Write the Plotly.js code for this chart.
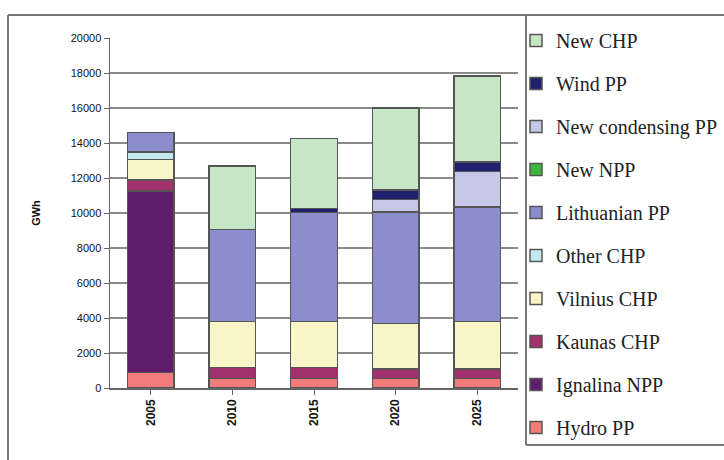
<!DOCTYPE html>
<html><head><meta charset="utf-8">
<script src="https://cdn.plot.ly/plotly-3.0.1.min.js"></script>
<style>html,body{margin:0;padding:0;background:#fff}</style>
</head><body>
<div id="chart" style="width:724px;height:460px"></div>
<script>
const years = ["2005","2010","2015","2020","2025"];
const hydroPP      = [880, 550, 550, 550, 550];
const ignalinaNPP  = [10390, 0, 0, 0, 0];
const kaunasCHP    = [620, 630, 630, 530, 530];
const vilniusCHP   = [1180, 2610, 2610, 2620, 2710];
const otherCHP     = [420, 0, 0, 0, 0];
const lithuanianPP = [1100, 5280, 6230, 6370, 6540];
const newNPP       = [0, 0, 0, 0, 0];
const newCondensingPP = [0, 0, 0, 710, 2030];
const windPP       = [0, 0, 250, 530, 550];
const newCHP       = [0, 3620, 3990, 4690, 4920];

const names = ["Hydro PP","Ignalina NPP","Kaunas CHP","Vilnius CHP","Other CHP","Lithuanian PP","New NPP","New condensing PP","Wind PP","New CHP"];
const series = [hydroPP, ignalinaNPP, kaunasCHP, vilniusCHP, otherCHP, lithuanianPP, newNPP, newCondensingPP, windPP, newCHP];
const colors = ["#f27c7c","#5f1d6c","#a2326e","#f8f6c8","#c3e8f0","#8b8dcc","#3db83f","#c6c6e6","#20206f","#c6e6c6"];

const traces = names.map((n,i)=>({
  type:"bar", name:n, x:years, y:series[i], legendgroup:"g"+i,
  legendrank: 100 - i,
  marker:{color:colors[i], line:{color:"#555555", width:1.5}},
  hoverinfo:"x+y+name"
}));

const L = 110, R = 518, T = 38, B = 388;
const px = v => (v - L)/(R - L);
const py = v => (B - v)/(B - T);

const layout = {
  width:724, height:460,
  margin:{l:L, r:724-R, t:T, b:460-B, autoexpand:false},
  paper_bgcolor:"#fff", plot_bgcolor:"#fff",
  barmode:"stack", bargap:0.43,
  font:{family:"Liberation Sans, Arial, sans-serif", color:"#111"},
  xaxis:{
    tickangle:-90, tickfont:{size:12, family:"Liberation Sans, Arial", weight:"bold"},
    showline:true, linecolor:"#666", linewidth:1.5,
    ticks:"outside", tickson:"boundaries", ticklen:5, tickcolor:"#666",
    showgrid:false, fixedrange:true
  },
  yaxis:{
    range:[0,20000], dtick:2000, tickformat:"d",
    tickfont:{size:11, family:"Liberation Sans, Arial"},
    showline:true, linecolor:"#666", linewidth:1.5,
    ticks:"outside", ticklen:5, tickcolor:"#666",
    gridcolor:"#8a8a8a", gridwidth:2, zeroline:false,
    title:{text:"<b>GWh</b>", font:{size:11, family:"Liberation Sans, Arial"}, standoff:28},
    fixedrange:true
  },
  legend:{
    x:px(516), xanchor:"left", y:py(21), yanchor:"top",
    traceorder:"grouped", tracegroupgap:14, maxheight:460,
    font:{family:"Liberation Serif, Times New Roman, serif", size:20, color:"#222"},
    bgcolor:"rgba(0,0,0,0)", borderwidth:0, itemwidth:30
  },
  shapes:[
    {type:"line", xref:"paper", yref:"paper", x0:px(8), x1:px(8), y0:py(15), y1:py(470), line:{color:"#777", width:2}},
    {type:"line", xref:"paper", yref:"paper", x0:px(8), x1:px(740), y0:py(15), y1:py(15), line:{color:"#777", width:2}},
    {type:"line", xref:"paper", yref:"paper", x0:px(526), x1:px(526), y0:py(15), y1:py(445), line:{color:"#777", width:2}},
    {type:"line", xref:"paper", yref:"paper", x0:px(526), x1:px(740), y0:py(445), y1:py(445), line:{color:"#777", width:2}}
  ],
  showlegend:true
};
Plotly.newPlot("chart", traces, layout, {displayModeBar:false, staticPlot:true});
</script>
</body></html>
